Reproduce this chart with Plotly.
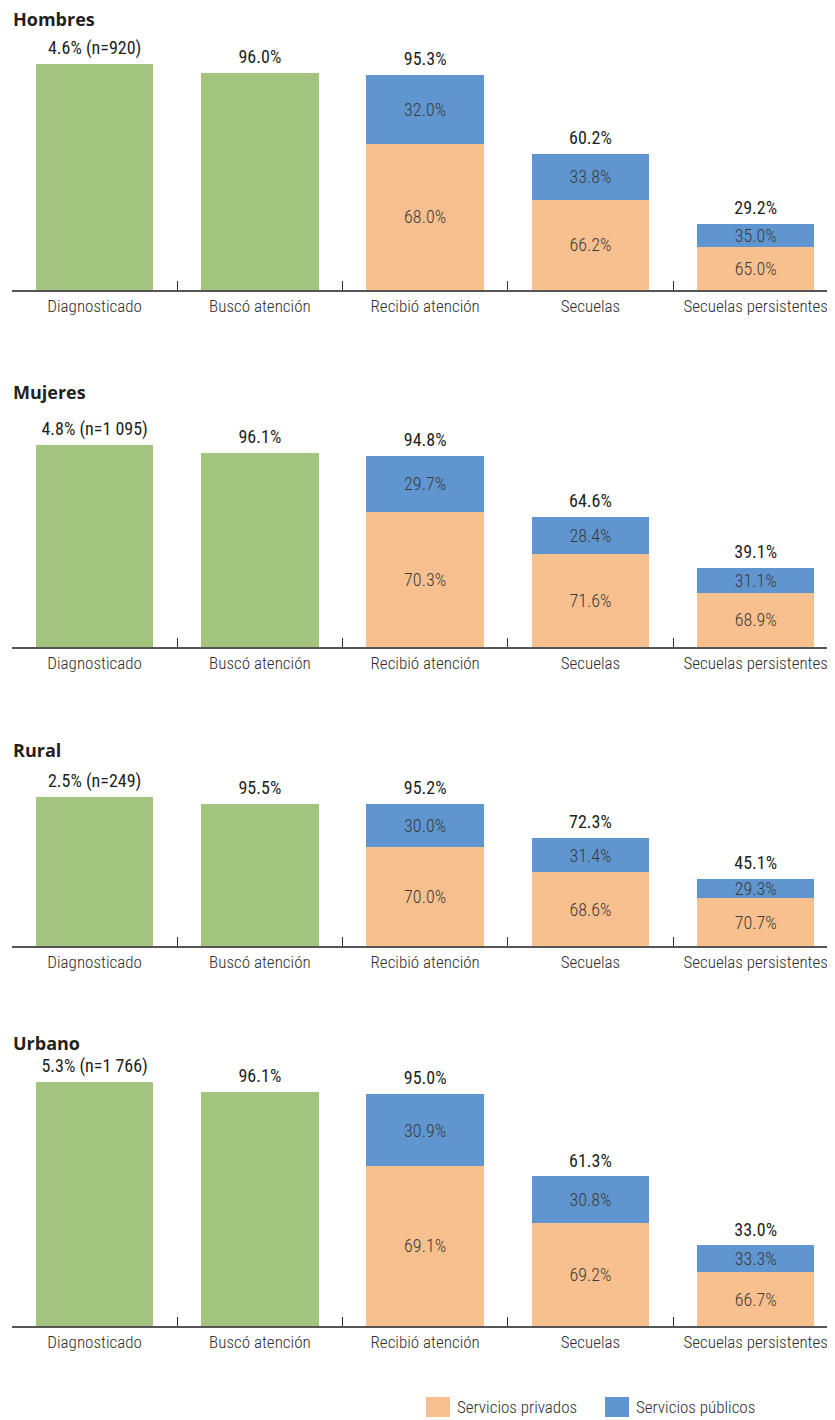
import plotly.graph_objects as go
from plotly.subplots import make_subplots

# categorias y datos por panel
categorias = ["Diagnosticado", "Buscó atención", "Recibió atención", "Secuelas", "Secuelas persistentes"]
paneles = ["Hombres", "Mujeres", "Rural", "Urbano"]

# altura total de cada barra (% respecto a diagnosticados)
hombres_total = [100, 96.0, 95.3, 60.2, 29.2]
mujeres_total = [100, 96.1, 94.8, 64.6, 39.1]
rural_total = [100, 95.5, 95.2, 72.3, 45.1]
urbano_total = [100, 96.1, 95.0, 61.3, 33.0]

# etiqueta de la primera barra
hombres_n = "4.6% (n=920)"
mujeres_n = "4.8% (n=1 095)"
rural_n = "2.5% (n=249)"
urbano_n = "5.3% (n=1 766)"

# reparto privado / publico para Recibió atención, Secuelas, Secuelas persistentes
hombres_priv = [68.0, 66.2, 65.0]
hombres_pub = [32.0, 33.8, 35.0]
mujeres_priv = [70.3, 71.6, 68.9]
mujeres_pub = [29.7, 28.4, 31.1]
rural_priv = [70.0, 68.6, 70.7]
rural_pub = [30.0, 31.4, 29.3]
urbano_priv = [69.1, 69.2, 66.7]
urbano_pub = [30.9, 30.8, 33.3]

datos = [
    (hombres_total, hombres_n, hombres_priv, hombres_pub),
    (mujeres_total, mujeres_n, mujeres_priv, mujeres_pub),
    (rural_total, rural_n, rural_priv, rural_pub),
    (urbano_total, urbano_n, urbano_priv, urbano_pub),
]

VERDE = "#a3c47e"
NARANJA = "#f9c08f"
AZUL = "#6096cf"
FUENTE = "Roboto Condensed, DejaVu Sans Condensed, sans-serif"
FUENTE_B = "Open Sans, Liberation Sans, sans-serif"

# la pagina html deja 8px de margen, se compensa aqui
OFF = 8
W, H = 835 - OFF, 1420 - OFF
# (titulo, tope 100%, linea base) en pixeles de la pagina
geo = [(19, 64, 290), (392, 445, 647), (750, 797, 946), (1043, 1082, 1326)]

fig = make_subplots(rows=4, cols=1)
xs = list(range(len(categorias)))


def py(p):
    return 1 - (p - OFF) / H


def px(p):
    return (p - 12) / (835 - 12)


for i, (total, etiqueta_n, priv, pub) in enumerate(datos):
    r = i + 1
    verde = [total[0], total[1], None, None, None]
    alto_priv = [None, None] + [t * p / 100 for t, p in zip(total[2:], priv)]
    alto_pub = [None, None] + [t * p / 100 for t, p in zip(total[2:], pub)]
    txt_priv = ["", ""] + [f"{p:.1f}%" for p in priv]
    txt_pub = ["", ""] + [f"{p:.1f}%" for p in pub]

    fig.add_trace(go.Bar(x=xs, y=verde, marker_color=VERDE, width=0.71,
                         marker_line_width=0, showlegend=False, hoverinfo="skip"), row=r, col=1)
    fig.add_trace(go.Bar(x=xs, y=alto_priv, marker_color=NARANJA, width=0.71,
                         marker_line_width=0,
                         text=txt_priv, textposition="inside", insidetextanchor="middle",
                         textfont=dict(family=FUENTE, size=18, color="#3a3a3a", weight=300),
                         name="Servicios privados", showlegend=False), row=r, col=1)
    fig.add_trace(go.Bar(x=xs, y=alto_pub, marker_color=AZUL, width=0.71,
                         marker_line_width=0,
                         text=txt_pub, textposition="inside", insidetextanchor="middle",
                         textfont=dict(family=FUENTE, size=18, color="#3a3a3a", weight=300),
                         name="Servicios públicos", showlegend=False), row=r, col=1)
    etiquetas = [etiqueta_n] + [f"{t:.1f}%" for t in total[1:]]
    # marcador invisible para separar la etiqueta del tope de la barra
    fig.add_trace(go.Scatter(x=xs, y=total, mode="markers+text", text=etiquetas,
                             marker=dict(size=7, opacity=0),
                             textposition="top center", cliponaxis=False,
                             textfont=dict(family=FUENTE, size=18, color="#231f20", weight=400),
                             showlegend=False, hoverinfo="skip"), row=r, col=1)

    t_tit, t_top, t_base = geo[i]
    fig.update_yaxes(domain=[py(t_base), py(t_top)], range=[0, 100],
                     visible=False, row=r, col=1)
    fig.update_xaxes(domain=[0, 1], range=[-0.5, 4.48], tickvals=xs, ticktext=categorias,
                     ticks="", showline=True, linecolor="#555555", linewidth=1.5,
                     showgrid=False, zeroline=False, automargin=False,
                     ticklabeloverflow="allow",
                     tickfont=dict(family=FUENTE, size=17, color="#2e2e2e", weight=300),
                     minor=dict(tickvals=[0.5, 1.5, 2.5, 3.5], ticks="inside",
                                ticklen=9, tickcolor="#333333", tickwidth=1.2),
                     row=r, col=1)
    fig.add_annotation(text=f"<b>{paneles[i]}</b>", xref="paper", yref="paper",
                       x=0, y=py(t_tit), xanchor="left", yanchor="middle",
                       showarrow=False, borderpad=0,
                       font=dict(family=FUENTE_B, size=18, color="#231f20"))

# leyenda dibujada con cuadros y texto
for x0, color, texto in [(426, NARANJA, "Servicios privados"), (605, AZUL, "Servicios públicos")]:
    fig.add_shape(type="rect", xref="paper", yref="paper",
                  x0=px(x0), x1=px(x0 + 24), y0=py(1417), y1=py(1397),
                  fillcolor=color, line_width=0)
    fig.add_annotation(text=texto, xref="paper", yref="paper",
                       x=px(x0 + 29), y=py(1407), xanchor="left", yanchor="middle",
                       showarrow=False,
                       font=dict(family=FUENTE, size=17, color="#2e2e2e", weight=300))

fig.update_layout(barmode="stack", width=W, height=H,
                  margin=dict(l=12 - OFF, r=0, t=0, b=0),
                  plot_bgcolor="white", paper_bgcolor="white",
                  uniformtext=dict(minsize=18, mode="show"))

fig.write_html("out.html")
